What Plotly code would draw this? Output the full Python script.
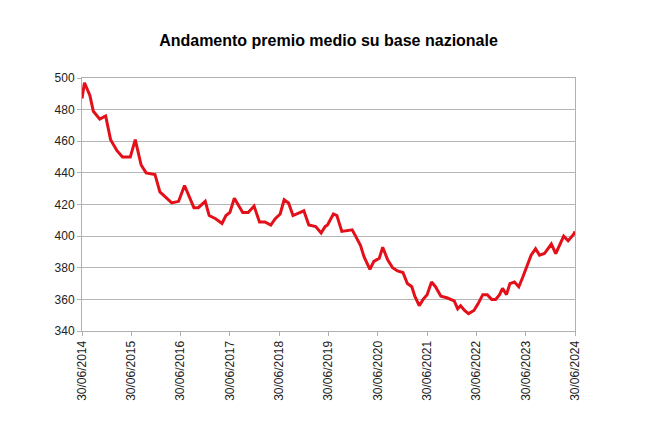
import plotly.graph_objects as go

# time in years from 30/06/2014, premium value
anni = [0, 0.05, 0.16, 0.23, 0.36, 0.48, 0.58, 0.71, 0.82, 0.98, 1.08, 1.2, 1.3, 1.48, 1.58,
        1.82, 1.96, 2.08, 2.27, 2.36, 2.5, 2.58, 2.71, 2.84, 2.92, 3.0, 3.09, 3.26, 3.37,
        3.49, 3.6, 3.71, 3.83, 3.92, 4.02, 4.1, 4.19, 4.28, 4.5, 4.6, 4.74, 4.85, 4.93,
        4.98, 5.1, 5.17, 5.27, 5.48, 5.55, 5.65, 5.72, 5.84, 5.92, 6.03, 6.1, 6.2, 6.3,
        6.4, 6.51, 6.6, 6.69, 6.75, 6.84, 6.92, 7.0, 7.09, 7.17, 7.28, 7.4, 7.49, 7.55,
        7.62, 7.68, 7.76, 7.84, 7.95, 8.03, 8.13, 8.22, 8.31, 8.39, 8.47, 8.53, 8.61,
        8.68, 8.77, 8.86, 8.94, 9.02, 9.11, 9.2, 9.28, 9.38, 9.52, 9.61, 9.69, 9.77,
        9.86, 9.97, 10.0]
premio = [487, 497, 489, 479, 474, 476, 461, 454, 450, 450, 461, 445, 440, 439, 428,
          421, 422, 432, 418, 418, 422, 413, 411, 408, 413, 415, 424, 415, 415,
          419, 409, 409, 407, 411, 414, 423, 421, 413, 416, 407, 406, 402, 406,
          407, 414, 413, 403, 404, 400, 394, 387, 379, 384, 386, 393, 385, 380,
          378, 377, 370, 368, 362, 356, 360, 363, 371, 368, 362, 361, 360, 359,
          354, 356, 353, 351, 353, 357, 363, 363, 360, 360, 363, 367, 363,
          370, 371, 368, 374, 381, 388, 392, 388, 389, 395, 389, 394, 400,
          397, 401, 403]

tick_pos = list(range(11))
tick_lab = ["30/06/%d" % y for y in range(2014, 2025)]

fig = go.Figure()
fig.add_trace(go.Scatter(x=anni, y=premio, mode="lines",
                         line=dict(color="#e3101a", width=3), showlegend=False))

fig.update_layout(
    width=670, height=446,
    paper_bgcolor="white", plot_bgcolor="white",
    margin=dict(l=74, r=103, t=70, b=123),
    font=dict(family="Liberation Sans, Arial", size=12, color="#222"),
    title=dict(text="<b>Andamento premio medio su base nazionale</b>",
               x=0.5, xref="paper", xanchor="center", y=0.94, yanchor="top",
               font=dict(size=16, color="#000")),
)
fig.update_xaxes(range=[0, 10], tickvals=tick_pos, ticktext=tick_lab, tickangle=-90,
                 showgrid=False, showline=True, linecolor="#b0b0b0", mirror=True,
                 ticks="outside", tickcolor="#b0b0b0", ticklen=4, zeroline=False)
fig.update_yaxes(range=[340, 500], dtick=20, showgrid=True, gridcolor="#b5b5b5",
                 showline=True, linecolor="#b0b0b0", mirror=True,
                 ticks="outside", tickcolor="#b0b0b0", ticklen=4, zeroline=False)

fig.write_html("out.html")
